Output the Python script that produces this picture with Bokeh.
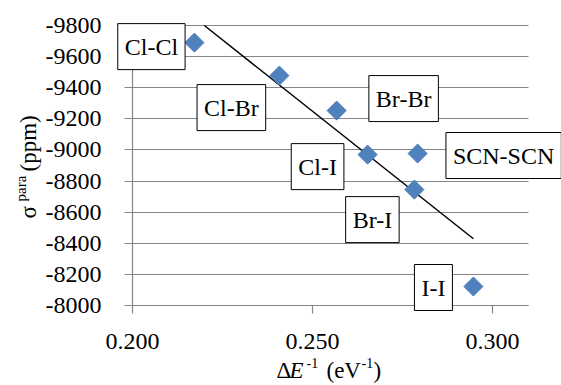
import numpy as np
from bokeh.plotting import figure
from bokeh.models import Range1d, FixedTicker, Label
from bokeh.embed import file_html
from bokeh.resources import INLINE

# ---- data ----
names = ["Cl-Cl", "Cl-Br", "Br-Br", "Cl-I", "SCN-SCN", "Br-I", "I-I"]
inv_dE = [0.2172, 0.2408, 0.2567, 0.2653, 0.2792, 0.2783, 0.2947]
sigma_para = [-9690, -9478, -9253, -8970, -8977, -8745, -8122]
x_ticks = [0.200, 0.250, 0.300]
x_tick_labels = ["0.200", "0.250", "0.300"]
y_ticks = [-9800, -9600, -9400, -9200, -9000, -8800, -8600, -8400, -8200, -8000]
y_tick_labels = ["-9800", "-9600", "-9400", "-9200", "-9000", "-8800", "-8600", "-8400", "-8200", "-8000"]
x_axis_min, x_axis_max = 0.20, 0.31
y_axis_min, y_axis_max = -9800, -8000

# ---- layout / style ----
W, H = 561, 385
AREA_L, AREA_R, AREA_T, AREA_B = 132, 528, 25, 305   # plot area in px
FONT = "Liberation Serif"
GRID = "#868686"
BLUE = "#4F81BD"
label_offsets = {   # screen px (dx right, dy up)
    "Cl-Cl": (-43, -4), "Cl-Br": (-48, -32), "Br-Br": (67, 12),
    "Cl-I": (-50, -12), "SCN-SCN": (86, -2), "Br-I": (-42, -30), "I-I": (-40, -1),
}

# the frame covers the whole canvas; axes are pinned at the plot-area edges
kx = (AREA_R - AREA_L) / (x_axis_max - x_axis_min)
ky = (AREA_B - AREA_T) / (y_axis_max - y_axis_min)
x_range = Range1d(x_axis_min - AREA_L / kx, x_axis_max + (W - AREA_R) / kx)
y_range = Range1d(y_axis_max + (H - AREA_B) / ky, y_axis_min - AREA_T / ky)

p = figure(width=W, height=H, output_backend="svg", toolbar_location=None,
           x_range=x_range, y_range=y_range, min_border=0)
p.title.visible = False
p.outline_line_color = None
p.background_fill_color = "white"
p.border_fill_color = "white"

p.xgrid.grid_line_color = None
p.ygrid.grid_line_color = GRID
p.ygrid.grid_line_width = 1.2
p.ygrid.ticker = FixedTicker(ticks=y_ticks)
try:
    p.ygrid.cross_bounds = (x_axis_min, x_axis_max)
except Exception:
    pass

p.xaxis.fixed_location = y_axis_max
p.yaxis.fixed_location = x_axis_min
p.xaxis.bounds = (x_axis_min, x_axis_max)
p.yaxis.bounds = (y_axis_min, y_axis_max)
p.xaxis.ticker = FixedTicker(ticks=x_ticks)
p.yaxis.ticker = FixedTicker(ticks=y_ticks)
p.xaxis.major_label_overrides = dict(zip(x_ticks, x_tick_labels))
p.yaxis.major_label_overrides = dict(zip(y_ticks, y_tick_labels))
for ax in (p.xaxis, p.yaxis):
    ax.axis_line_color = GRID
    ax.axis_line_width = 1.2
    ax.major_tick_line_color = GRID
    ax.major_tick_line_width = 1.2
    ax.major_tick_out = 8
    ax.major_tick_in = 0
    ax.minor_tick_line_color = None
    ax.major_label_text_font = FONT
    ax.major_label_text_font_size = "24px"
    ax.major_label_text_color = "black"
p.yaxis.major_label_standoff = 23
p.xaxis.major_label_standoff = 20

# trendline (linear least squares over the data)
slope, intercept = np.polyfit(inv_dE, sigma_para, 1)
tx = np.array([min(inv_dE), max(inv_dE)])
ty = slope * tx + intercept
# clip to the top of the value axis, as the spreadsheet does
if ty[0] < y_axis_min:
    tx[0] = (y_axis_min - intercept) / slope
    ty[0] = y_axis_min
p.line(tx, ty, line_color="black", line_width=1.5)

p.scatter(inv_dE, sigma_para, marker="square", angle=np.pi / 4, size=13.5,
          fill_color=BLUE, line_color=BLUE)

for n, xv, yv in zip(names, inv_dE, sigma_para):
    dx, dy = label_offsets[n]
    p.add_layout(Label(x=xv, y=yv, x_offset=dx, y_offset=dy, text=n,
                       text_align="center", text_baseline="middle",
                       text_font=FONT, text_font_size="24px", text_color="black",
                       background_fill_color="white", border_line_color="black",
                       border_line_width=1,
                       padding=dict(left=7, right=7, top=10, bottom=10)))

# axis titles built from pieces (screen px from bottom-left)
def piece(text, x, y, size, angle=0, style="normal"):
    p.add_layout(Label(x=x, y=y, x_units="screen", y_units="screen", text=text,
                       angle=angle, text_font=FONT, text_font_size=size,
                       text_font_style=style, text_color="black",
                       text_align="left", text_baseline="alphabetic"))

# x title: ΔE^-1 (eV^-1)
piece("Δ", 276, 15, "23px")
piece("E", 289, 15, "23px", style="italic")
piece("-1", 306, 23, "14px")
piece("(eV", 326, 15, "23px")
piece("-1", 361, 23, "14px")
piece(")", 373, 15, "23px")

# y title: σ^para (ppm)
piece("σ", 28, 167, "23px", angle=np.pi / 2)
piece("para", 20, 184, "15px", angle=np.pi / 2)
piece("(ppm)", 28, 214, "23px", angle=np.pi / 2)

open("out.html", "w").write(file_html(p, INLINE))
